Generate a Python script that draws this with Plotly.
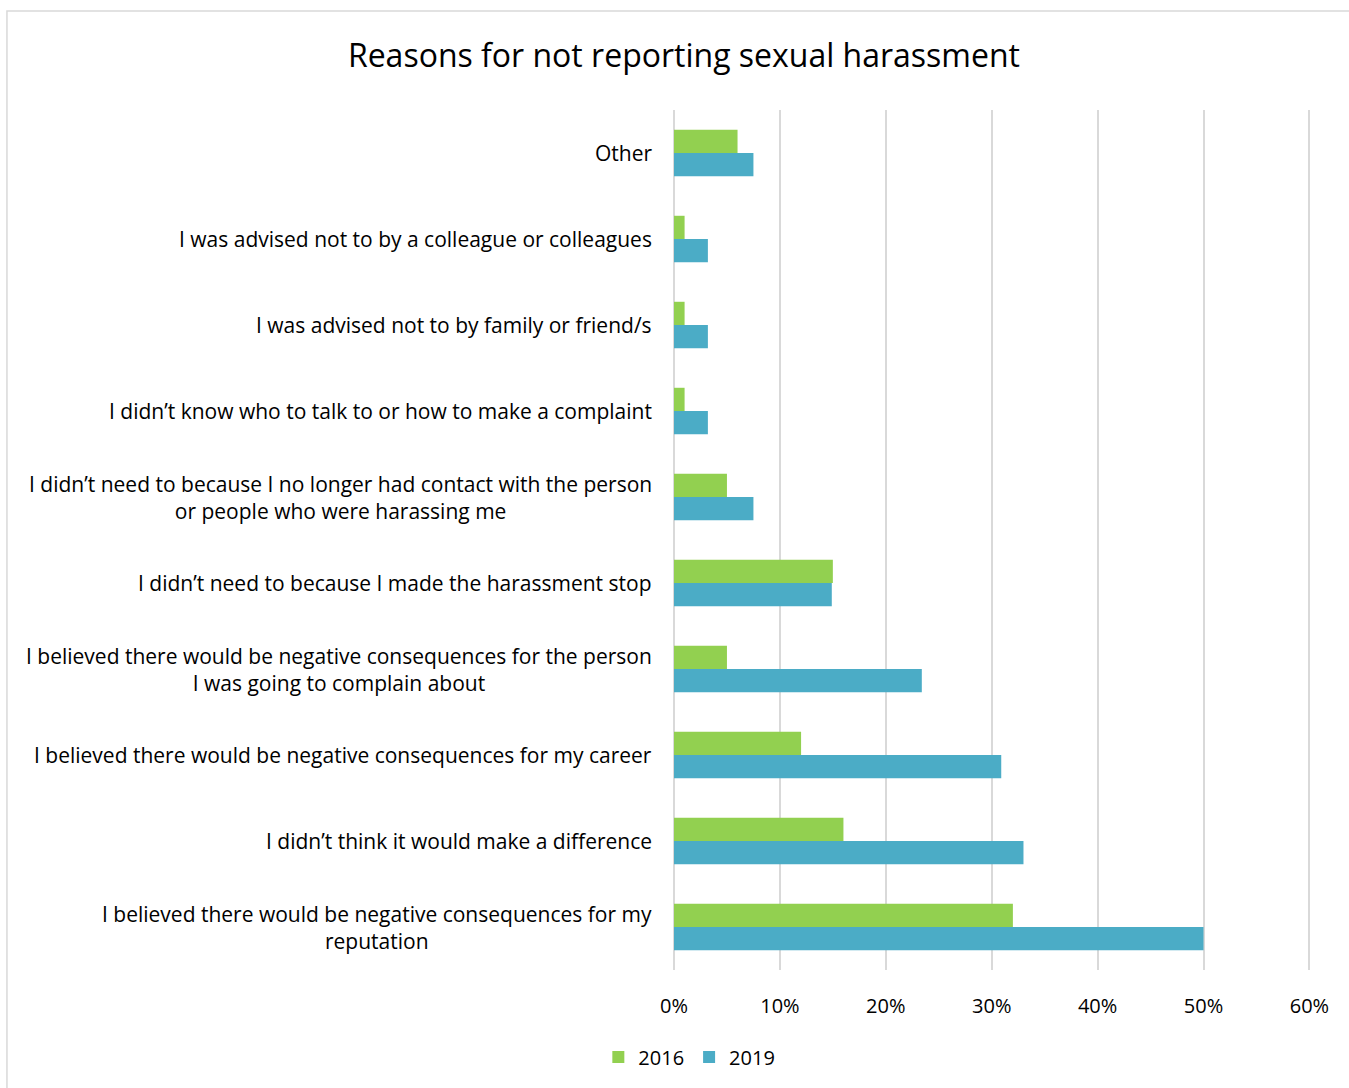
import plotly.graph_objects as go

categories = [
    "Other",
    "I was advised not to by a colleague or colleagues",
    "I was advised not to by family or friend/s",
    "I didn’t know who to talk to or how to make a complaint",
    "I didn’t need to because I no longer had contact with the person<br>or people who were harassing me",
    "I didn’t need to because I made the harassment stop",
    "I believed there would be negative consequences for the person<br>I was going to complain about",
    "I believed there would be negative consequences for my career",
    "I didn’t think it would make a difference",
    "I believed there would be negative consequences for my<br>reputation",
]
values_2016 = [0.06, 0.01, 0.01, 0.01, 0.05, 0.15, 0.05, 0.12, 0.16, 0.32]
values_2019 = [0.075, 0.032, 0.032, 0.032, 0.075, 0.149, 0.234, 0.309, 0.33, 0.50]
tick_vals = [0, 0.1, 0.2, 0.3, 0.4, 0.5, 0.6]
tick_text = ["0%", "10%", "20%", "30%", "40%", "50%", "60%"]

FONT = "Open Sans"
GREEN = "#92D050"
BLUE = "#4BACC6"

fig = go.Figure()
fig.add_trace(go.Bar(name="2016", y=categories, x=values_2016, orientation="h",
                     marker=dict(color=GREEN, line=dict(width=0))))
fig.add_trace(go.Bar(name="2019", y=categories, x=values_2019, orientation="h",
                     marker=dict(color=BLUE, line=dict(width=0))))

for c in categories:
    fig.add_annotation(x=0, xref="paper", xshift=-20, y=c, yref="y", text=c,
                       showarrow=False, xanchor="right", yanchor="middle", align="center",
                       font=dict(family=FONT, size=21, color="black"))

fig.add_shape(type="rect", xref="paper", yref="paper",
              x0=(8 - 674) / 636, x1=(1360 - 674) / 636,
              y0=(970 - 1100) / 860, y1=(970 - 11) / 860,
              line=dict(color="#d9d9d9", width=1.5), fillcolor="rgba(0,0,0,0)", layer="below")

fig.update_layout(
    width=1349, height=1088,
    margin=dict(l=674, r=38, t=110, b=118),
    paper_bgcolor="white", plot_bgcolor="white",
    barmode="group", bargap=0.46, bargroupgap=0,
    title=dict(text="Reasons for not reporting sexual harassment", x=0.507, xanchor="center",
               y=1 - 56 / 1088, yanchor="middle",
               font=dict(family=FONT, size=32, color="black")),
    xaxis=dict(range=[0, 0.6015], tickvals=tick_vals, ticktext=tick_text,
               showgrid=True, gridcolor="#d9d9d9", gridwidth=2,
               zeroline=True, zerolinecolor="#d9d9d9", zerolinewidth=2,
               showline=False, ticks="", ticklen=0,
               tickfont=dict(family=FONT, size=20, color="black")),
    yaxis=dict(autorange="reversed", showticklabels=False, showgrid=False,
               ticks="", zeroline=False, showline=False),
    legend=dict(orientation="h", x=0.511, xref="container", xanchor="center",
                y=1 - 1057 / 1088, yref="container", yanchor="middle",
                font=dict(family=FONT, size=20, color="black"),
                itemwidth=30, tracegroupgap=0),
    showlegend=True,
)
fig.update_xaxes(ticklabelstandoff=22)

fig.write_html("out.html")
